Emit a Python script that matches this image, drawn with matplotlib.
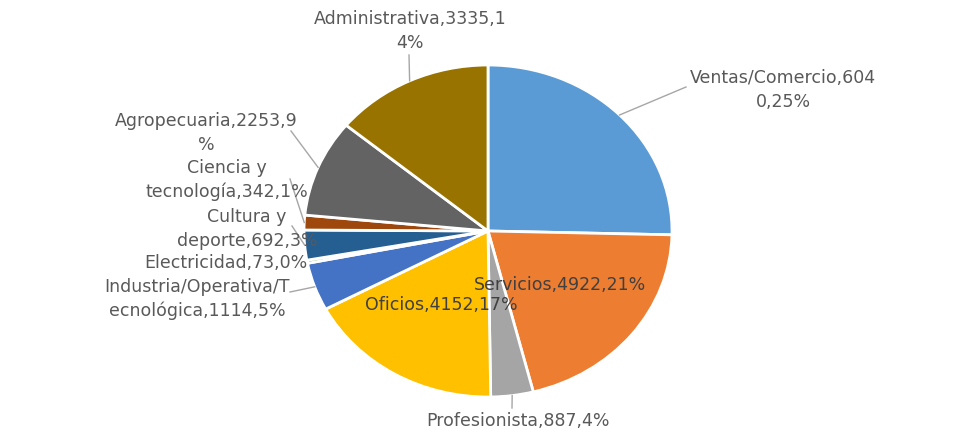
import numpy as np
import matplotlib.pyplot as plt

plt.rcParams['font.family'] = ['DejaVu Sans']

names = ['Ventas/Comercio', 'Servicios', 'Profesionista', 'Oficios',
         'Industria/Operativa/Tecnológica', 'Electricidad', 'Cultura y deporte',
         'Ciencia y tecnología', 'Agropecuaria', 'Administrativa']
values = [6040, 4922, 887, 4152, 1114, 73, 692, 342, 2253, 3335]
percents = [25, 21, 4, 17, 5, 0, 3, 1, 9, 14]
colors = ['#5b9bd5', '#ed7d31', '#a5a5a5', '#ffc000', '#4472c4', '#70ad47',
          '#255e91', '#9e480e', '#636363', '#997300']

# where Excel wrapped each label (character index), None = single line
wraps = [19, None, None, None, 21, None, 10, 10, 19, 21]
# label block centres in pixels (x, y from top)
label_pos = [(783, 90), (560, 285), (518, 421), (441, 305), (197, 299),
             (226, 263), (247, 229), (227, 180), (206, 133), (410, 31)]
# leader line ends near the text, None = no leader
leader_end = [(686, 87), None, (512, 408), None, (290, 292),
              None, (292, 226), (290, 179), (291, 131), (409, 55)]
inside = [False, True, False, True, False, False, False, False, False, False]

W, H = 968, 445
cx, cy, rx, ry = 488, 231, 184, 166

fig = plt.figure(figsize=(W / 100, H / 100), dpi=100)
ax = fig.add_axes([(cx - rx) / W, (H - cy - ry) / H, 2 * rx / W, 2 * ry / H])

wedges, _ = ax.pie(values, colors=colors, startangle=90, counterclock=False,
                   wedgeprops=dict(edgecolor='white', linewidth=2))
ax.set_aspect('auto')
ax.set_xlim(-1, 1)
ax.set_ylim(-1, 1)
ax.axis('off')


def px2data(px, py):
    return (px - cx) / rx, (cy - py) / ry


total = sum(values)
cum = np.cumsum([0] + values)
for i, name in enumerate(names):
    text = '%s,%d,%d%%' % (name, values[i], percents[i])
    if wraps[i]:
        text = text[:wraps[i]].rstrip() + '\n' + text[wraps[i]:]
    tx, ty = px2data(*label_pos[i])
    ax.text(tx, ty, text, ha='center', va='center', fontsize=12.5,
            color='#404040' if inside[i] else '#595959', linespacing=1.38)
    if leader_end[i]:
        mid = (cum[i] + values[i] / 2) / total
        ang = np.deg2rad(90 - 360 * mid)
        ex, ey = px2data(*leader_end[i])
        ax.plot([np.cos(ang), ex], [np.sin(ang), ey], color='#a6a6a6',
                lw=1, clip_on=False)

fig.savefig('out.png', dpi=100)
